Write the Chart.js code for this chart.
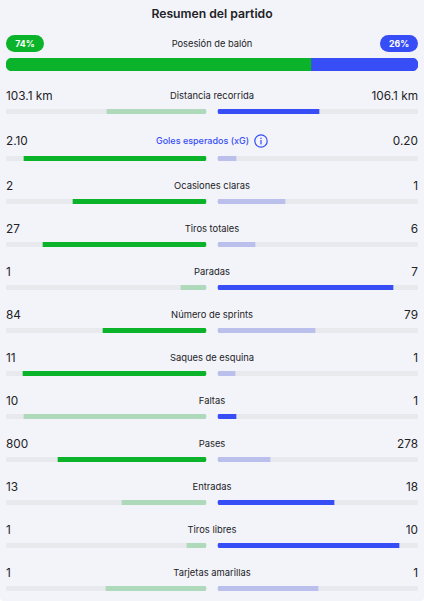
<!DOCTYPE html>
<html lang="es">
<head>
<meta charset="utf-8">
<title>Resumen del partido</title>
<script src="https://cdn.jsdelivr.net/npm/chart.js@4"></script>
<style>
  * { box-sizing: border-box; }
  html { margin: 0; background: #ffffff; }
  body { margin: 0; background: #f3f4f9; border-radius: 0 0 4px 4px; width: 424px; height: 601px; overflow: hidden; padding: 0 6px; font-family: Inter, sans-serif; color: #222226; }
  h1 { margin: 0; padding-top: 5px; height: 35px; font-size: 12.2px; line-height: 17px; font-weight: 600; text-align: center; }
  .top { display: flex; justify-content: space-between; align-items: center; height: 17px; margin-bottom: 6px; }
  .pill { width: 38px; height: 17px; border-radius: 9px; color: #fff; font-size: 8.8px; font-weight: 700; line-height: 17px; text-align: center; }
  .name { font-size: 9.3px; font-weight: 400; }
  .row { margin-top: 17px; }
  .head { display: flex; justify-content: space-between; align-items: center; height: 16px; margin-bottom: 5px; position: relative; font-size: 11.8px; }
  .head .name { position: absolute; left: 0; right: 0; top: 2px; line-height: 11px; text-align: center; font-size: 9.4px; }
  .head.xg { height: 20px; }
  .xg .name { top: 3px; line-height: 14px; color: #374df5; font-weight: 500; font-size: 9px; display: flex; justify-content: center; align-items: center; gap: 5px; }
  canvas { display: block; }
</style>
</head>
<body>
<h1>Resumen del partido</h1>
<div class="top">
  <span class="pill" id="pillHome" style="background:#0bb32a"></span>
  <span class="name">Posesión de balón</span>
  <span class="pill" id="pillAway" style="background:#374df5"></span>
</div>
<canvas id="possession" width="412" height="13"></canvas>
<div id="rows"></div>

<script>
const possession = [74, 26]

const statNames = ["Distancia recorrida", "Goles esperados (xG)", "Ocasiones claras", "Tiros totales", "Paradas",
  "Número de sprints", "Saques de esquina", "Faltas", "Pases", "Entradas", "Tiros libres", "Tarjetas amarillas"]
const homeLabels = ["103.1 km", "2.10", "2", "27", "1", "84", "11", "10", "800", "13", "1", "1"]
const awayLabels = ["106.1 km", "0.20", "1", "6", "7", "79", "1", "1", "278", "18", "10", "1"]
// Bar lengths, percent of each half
const homeShares = [49.5, 91, 66.5, 81.5, 12.5, 51.5, 91.5, 91, 74, 42, 9.5, 50]
const awayShares = [50.5, 9, 33.5, 18.5, 87.5, 48.5, 8.5, 9, 26, 58, 90.5, 50]
// Which side is drawn in the strong colour on each row
const strongSide = ["away", "home", "home", "home", "away", "home", "home", "away", "home", "away", "away", "none"]

const GREEN = "#0bb32a"
const GREEN_LIGHT = "#aed9ba"
const BLUE = "#374df5"
const BLUE_LIGHT = "#bac0eb"
const TRACK = "#e8e9ec"

// Gap between the two halves, in x scale units (1 unit = 2px)
const GAP = 3
const FULL = 100

function baseOptions(min, max) {
  return {
    indexAxis: "y",
    responsive: false,
    animation: false,
    events: [],
    layout: { padding: 0 },
    plugins: { legend: { display: false }, tooltip: { enabled: false } },
    scales: {
      x: { display: false, min, max },
      y: { display: false }
    }
  }
}

function bar(data, color, borderRadius, thickness) {
  return {
    data: [data],
    backgroundColor: color,
    borderRadius,
    borderSkipped: false,
    barThickness: thickness,
    grouped: false
  }
}

document.getElementById("pillHome").textContent = possession[0] + "%"
document.getElementById("pillAway").textContent = possession[1] + "%"

new Chart(document.getElementById("possession"), {
  type: "bar",
  data: {
    labels: ["Posesión de balón"],
    datasets: [
      bar([0, possession[0]], GREEN, { topLeft: 6.5, bottomLeft: 6.5 }, 13),
      bar([possession[0], 100], BLUE, { topRight: 6.5, bottomRight: 6.5 }, 13)
    ]
  },
  options: baseOptions(0, 100)
})

const rows = document.getElementById("rows")

statNames.forEach((name, i) => {
  const row = document.createElement("div")
  row.className = "row"

  const head = document.createElement("div")
  head.className = i === 1 ? "head xg" : "head"
  const info = i === 1
    ? '<svg width="14" height="14" viewBox="0 0 14 14"><circle cx="7" cy="7" r="6.2" fill="none" stroke="#374df5" stroke-width="1.2"/><rect x="6.4" y="6" width="1.2" height="4.4" fill="#374df5"/><rect x="6.4" y="3.6" width="1.2" height="1.4" fill="#374df5"/></svg>'
    : ""
  head.innerHTML = `<span>${homeLabels[i]}</span><span class="name">${name}${info}</span><span>${awayLabels[i]}</span>`
  row.appendChild(head)

  const canvas = document.createElement("canvas")
  canvas.width = 412
  canvas.height = 5
  row.appendChild(canvas)
  rows.appendChild(row)

  const homeColor = strongSide[i] === "home" ? GREEN : GREEN_LIGHT
  const awayColor = strongSide[i] === "away" ? BLUE : BLUE_LIGHT

  new Chart(canvas, {
    type: "bar",
    data: {
      labels: [name],
      datasets: [
        bar([-GAP - homeShares[i], -GAP], homeColor, { topRight: 2.5, bottomRight: 2.5 }, 5),
        bar([GAP, GAP + awayShares[i]], awayColor, { topLeft: 2.5, bottomLeft: 2.5 }, 5),
        bar([-GAP - FULL, -GAP], TRACK, 2.5, 5),
        bar([GAP, GAP + FULL], TRACK, 2.5, 5)
      ]
    },
    options: baseOptions(-GAP - FULL, GAP + FULL)
  })
})
</script>
</body>
</html>
